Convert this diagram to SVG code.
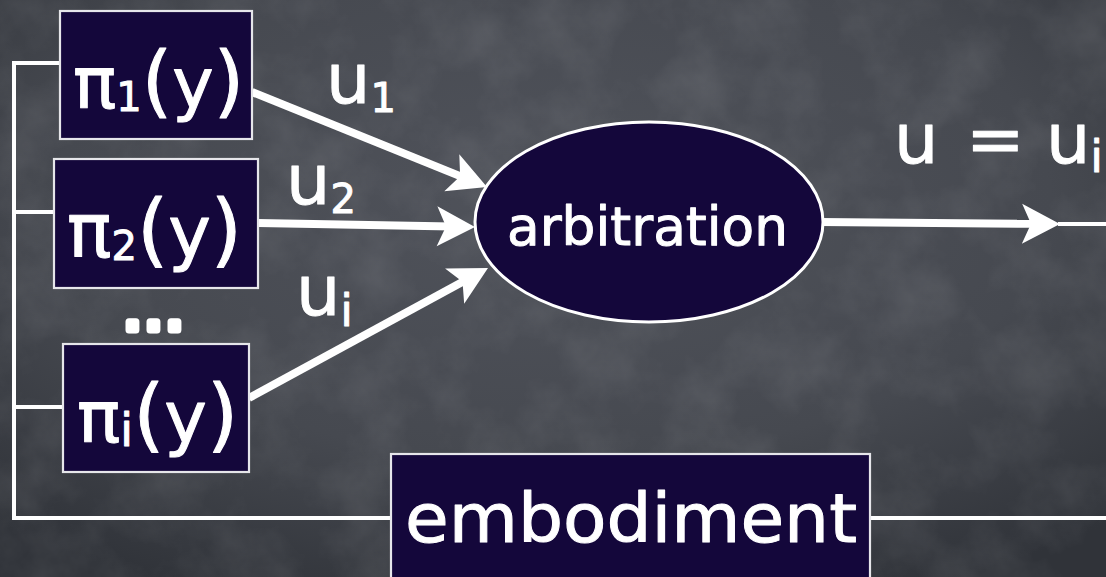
<svg xmlns="http://www.w3.org/2000/svg" width="1106" height="577" viewBox="0 0 1106 577">
  <defs>
    <radialGradient id="board" cx="0.5" cy="0.35" r="0.75">
      <stop offset="0" stop-color="#50535b"/>
      <stop offset="0.6" stop-color="#464950"/>
      <stop offset="1" stop-color="#303339"/>
    </radialGradient>
    <filter id="chalk" x="0" y="0" width="100%" height="100%">
      <feTurbulence type="fractalNoise" baseFrequency="0.015" numOctaves="5" seed="7"/>
      <feColorMatrix type="matrix" values="0 0 0 0 1  0 0 0 0 1  0 0 0 0 1  0.9 0 0 0 -0.35"/>
    </filter>
    <marker id="head" markerUnits="userSpaceOnUse" markerWidth="80" markerHeight="80" refX="6" refY="0" orient="auto" overflow="visible">
      <path d="M29,0 L-9,-20 L0,0 L-9,20 Z" fill="#ffffff"/>
    </marker>
    <style>
      .box { fill: #14073b; stroke: #e6e6ea; stroke-width: 2.2; }
      .lbl { font-family: "DejaVu Sans", "Noto Sans", sans-serif; fill: #ffffff; stroke: #ffffff; stroke-width: 1; stroke-linejoin: round; }
      .dots { stroke-width: 7; }
      .wire { fill: none; stroke: #ffffff; stroke-width: 4; }
      .flow { fill: none; stroke: #ffffff; stroke-width: 8; marker-end: url(#head); }
    </style>
  </defs>

  <!-- chalkboard -->
  <rect width="1106" height="577" fill="url(#board)"/>
  <rect width="1106" height="577" filter="url(#chalk)" opacity="0.18"/>

  <!-- connectors -->
  <g id="connectors">
    <path class="wire" d="M60,63 H14 V518 H391 M14,212 H54 M14,407 H63 M870,518 H1106"/>
    <line class="flow" x1="252" y1="92" x2="465.7" y2="178.4"/>
    <line class="flow" x1="258" y1="223" x2="452" y2="226.6"/>
    <line class="flow" x1="249" y1="398" x2="467.8" y2="279"/>
    <line class="flow" x1="820" y1="222" x2="1037" y2="223.8"/>
    <line class="wire" x1="1058" y1="224" x2="1106" y2="224"/>
  </g>

  <!-- edge labels -->
  <g id="edge-labels" class="lbl">
    <text x="326" y="103" font-size="70">u<tspan dy="9" font-size="40">1</tspan></text>
    <text x="286" y="204" font-size="70">u<tspan dy="9" font-size="40">2</tspan></text>
    <text x="296" y="315" font-size="70">u<tspan dy="11" font-size="44">i</tspan></text>
    <text x="894" y="163" font-size="70">u<tspan x="966">=</tspan><tspan x="1046">u</tspan><tspan dy="9" font-size="44">i</tspan></text>
  </g>

  <!-- behaviour policies -->
  <g id="policy-1">
    <rect class="box" x="60" y="11" width="192" height="128"/>
    <text class="lbl" x="73" y="108" font-size="72">π<tspan dy="3" font-size="40">1</tspan><tspan dy="-3" font-size="78">(</tspan><tspan font-size="70">y</tspan><tspan font-size="78">)</tspan></text>
  </g>
  <g id="policy-2">
    <rect class="box" x="54" y="159" width="204" height="129"/>
    <text class="lbl" x="67" y="257" font-size="74">π<tspan dy="3" font-size="40">2</tspan><tspan dy="-3" font-size="80">(</tspan><tspan font-size="72">y</tspan><tspan font-size="80">)</tspan></text>
  </g>
  <text id="ellipsis" class="lbl dots" x="122" y="330" font-size="66">...</text>
  <g id="policy-i">
    <rect class="box" x="63" y="344" width="186" height="128"/>
    <text class="lbl" x="77" y="442" font-size="72">π<tspan dy="4" font-size="46">i</tspan><tspan dy="-4" font-size="80">(</tspan><tspan font-size="72">y</tspan><tspan font-size="80">)</tspan></text>
  </g>

  <!-- arbitration -->
  <g id="arbitration">
    <ellipse cx="649" cy="222" rx="174" ry="100" fill="#14073b" stroke="#ffffff" stroke-width="3"/>
    <text class="lbl" x="507" y="245" font-size="54" textLength="281" lengthAdjust="spacingAndGlyphs">arbitration</text>
  </g>

  <!-- embodiment -->
  <g id="embodiment">
    <rect class="box" x="391" y="454" width="479" height="130"/>
    <text class="lbl" x="405" y="542" font-size="68" textLength="452" lengthAdjust="spacingAndGlyphs">embodiment</text>
  </g>
</svg>
